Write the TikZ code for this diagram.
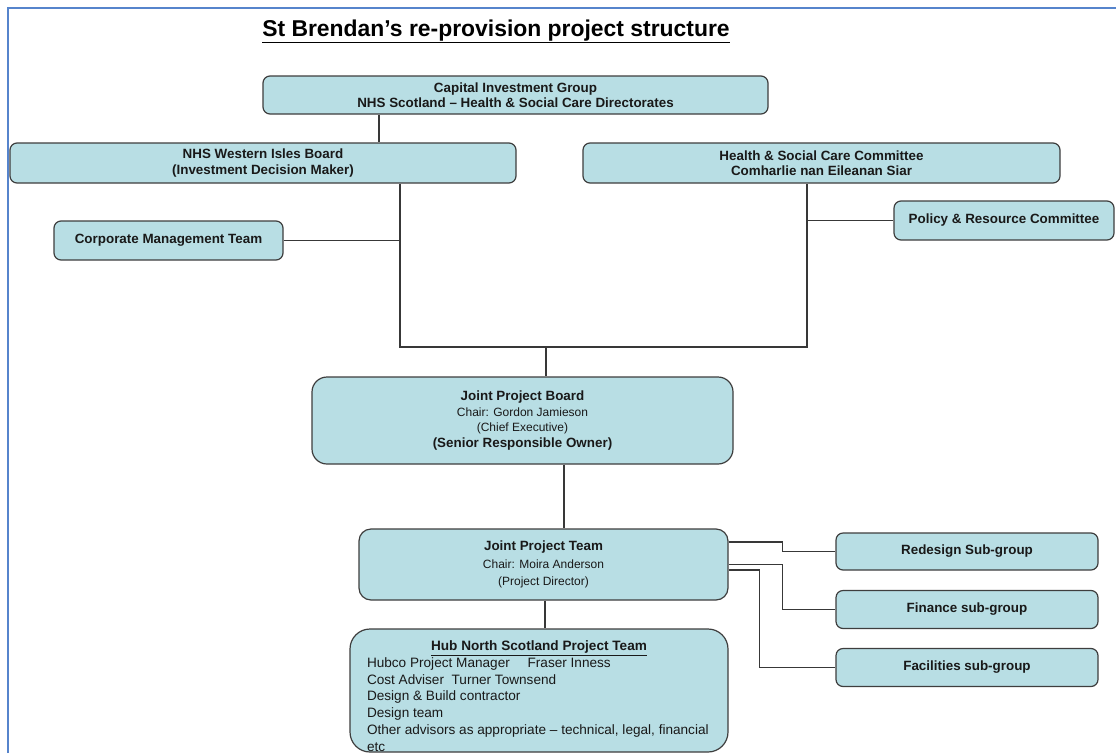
\documentclass[tikz,border=0pt]{standalone}
\usepackage{fontspec}
\setmainfont{Liberation Sans}
\usetikzlibrary{positioning}
\definecolor{boxfill}{RGB}{184,222,228}
\definecolor{boxline}{RGB}{62,62,62}
\definecolor{framecol}{RGB}{86,132,204}
\newcommand{\lighttext}[1]{{\mdseries\fontsize{12}{15.5}\selectfont #1}}

\tikzset{
  unitbox/.style={draw=boxline, fill=boxfill, line width=1.2pt, rounded corners=7pt,
    inner sep=0pt, align=center, text=black!90,
    font=\fontsize{13.4}{15.5}\selectfont\bfseries},
  link/.style={draw=black!78, line width=1.1pt},
}

\begin{document}
\begin{tikzpicture}[x=1pt,y=-1pt]
\useasboundingbox (0,0) rectangle (1116,753);
\draw[framecol, line width=2pt] (7.5,753) -- (7.5,7.5) -- (1116,7.5);

\node[font=\fontsize{22.9}{27}\selectfont\bfseries] (title) at (496,31.5)
  {\underline{St Brendan’s re-provision project structure}};

\node[unitbox, minimum width=505pt, minimum height=38pt] (cig) at (515.5,95)
  {Capital Investment Group\\NHS Scotland – Health \& Social Care Directorates};
\node[unitbox, minimum width=506pt, minimum height=40pt] (wib) at (263,163)
  {NHS Western Isles Board\\(Investment Decision Maker)};
\node[unitbox, minimum width=477pt, minimum height=40pt] (hsc) at (821.5,163)
  {Health \& Social Care Committee\\Comharlie nan Eileanan Siar};
\node[unitbox, minimum width=229pt, minimum height=39pt] (cmt) at (168.5,240.5)
  {Corporate Management Team};
\node[unitbox, minimum width=220pt, minimum height=39pt] (prc) at (1004,220.5)
  {Policy \& Resource Committee};

\node[unitbox, rounded corners=15pt, minimum width=421pt, minimum height=87pt] (jpb) at (522.5,420.5)
  {Joint Project Board\\\lighttext{Chair: Gordon Jamieson}\\\lighttext{(Chief Executive)}\\(Senior Responsible Owner)};
\node[unitbox, rounded corners=12pt, minimum width=369pt, minimum height=71pt,
  font=\fontsize{13.4}{17.5}\selectfont\bfseries] (jpt) at (543.5,564.5)
  {Joint Project Team\\\lighttext{Chair: Moira Anderson}\\\lighttext{(Project Director)}};
\node[unitbox, rounded corners=20pt, minimum width=378pt, minimum height=123pt, align=left,
  font=\fontsize{13.6}{16.7}\selectfont] (hub) at (539,690.5)
  {\rule{0pt}{21pt}\makebox[344pt]{\bfseries\underline{Hub North Scotland Project Team}}\\
   Hubco Project Manager\hspace{14pt} Fraser Inness\\
   Cost Adviser\ \ Turner Townsend\\
   Design \& Build contractor\\
   Design team\\
   Other advisors as appropriate – technical, legal, financial\\
   etc};

\node[unitbox, minimum width=262pt, minimum height=37pt] (redesign) at (967,551.5) {Redesign Sub-group};
\node[unitbox, minimum width=262pt, minimum height=38pt] (finance) at (967,609.5) {Finance sub-group};
\node[unitbox, minimum width=262pt, minimum height=38pt] (facilities) at (967,667.5) {Facilities sub-group};

\coordinate (cigdrop) at (379,128);
\coordinate (westdrop) at (400,347);
\coordinate (eastdrop) at (807,347);
\coordinate (boardjoin) at (546,347);
\coordinate (boarddrop) at (564,500);
\coordinate (teamdrop) at (545,615);

\draw[link] (cig.south -| cigdrop) -- (wib.north -| cigdrop);
\draw[link] (wib.south -| westdrop) -- (westdrop) -- (eastdrop) -- (hsc.south -| eastdrop);
\draw[link] (cmt.east) -- (cmt.east -| westdrop);
\draw[link] (prc.west) -- (prc.west -| eastdrop);
\draw[link] (boardjoin) -- (jpb.north -| boardjoin);
\draw[link] (jpb.south -| boarddrop) -- (jpt.north -| boarddrop);
\draw[link] (jpt.south -| teamdrop) -- (hub.north -| teamdrop);
\draw[link] ([yshift=22.5pt]jpt.east) -- ++(54,0) |- (redesign.west);
\draw[link] (jpt.east) -- ++(54,0) |- (finance.west);
\draw[link] ([yshift=-5.5pt]jpt.east) -- ++(31,0) |- (facilities.west);

\end{tikzpicture}
\end{document}
